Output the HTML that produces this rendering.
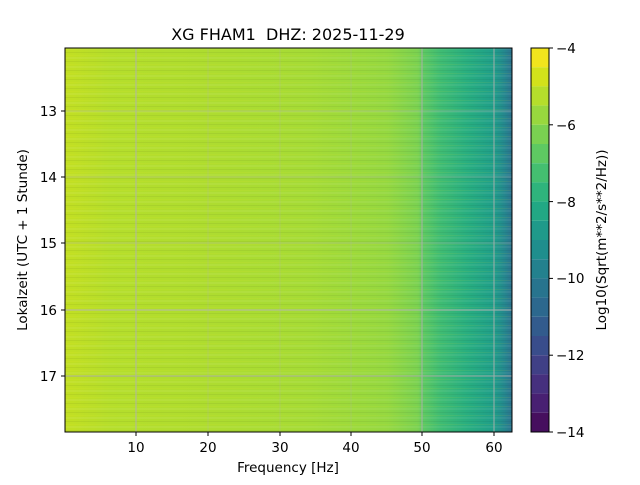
<!DOCTYPE html>
<html><head><style>body{margin:0;background:#fff}svg text{font-family:"DejaVu Sans","Liberation Sans",sans-serif;fill:#000}</style></head>
<body>
<svg width="640" height="480" xmlns="http://www.w3.org/2000/svg">
<defs>
<linearGradient id="g" x1="65" x2="512" y1="0" y2="0" gradientUnits="userSpaceOnUse">
<stop offset="0" stop-color="#c2df23"/>
<stop offset="0.1" stop-color="#b5de2b"/>
<stop offset="0.35" stop-color="#addc30"/>
<stop offset="0.55" stop-color="#a5db36"/>
<stop offset="0.72" stop-color="#95d840"/>
<stop offset="0.79" stop-color="#7ad151"/>
<stop offset="0.8" stop-color="#5ec962"/>
<stop offset="0.84" stop-color="#3fbc73"/>
<stop offset="0.9" stop-color="#28ae80"/>
<stop offset="0.96" stop-color="#1f9e89"/>
<stop offset="0.985" stop-color="#25858e"/>
<stop offset="1" stop-color="#2c728e"/>
</linearGradient>
<pattern id="s" width="447" height="9" patternUnits="userSpaceOnUse" x="65" y="48">
<rect x="0" y="0" width="447" height="2" fill="#fff" opacity="0.06"/>
<rect x="0" y="4" width="447" height="1" fill="#000" opacity="0.05"/>
<rect x="0" y="7" width="447" height="1" fill="#fde725" opacity="0.08"/>
</pattern>
</defs>
<text x="288" y="40" font-size="16" text-anchor="middle" xml:space="preserve">XG FHAM1  DHZ: 2025-11-29</text>
<rect x="65" y="48" width="447" height="384" fill="url(#g)"/>
<rect x="65" y="48" width="447" height="384" fill="url(#s)"/>
<g stroke="#b0b0b0" stroke-width="1" opacity="0.9">
<line x1="136" y1="48" x2="136" y2="432"/><line x1="208" y1="48" x2="208" y2="432" opacity="0.3"/>
<line x1="280" y1="48" x2="280" y2="432" opacity="0.3"/><line x1="351" y1="48" x2="351" y2="432" opacity="0.3"/>
<line x1="422" y1="48" x2="422" y2="432"/><line x1="494" y1="48" x2="494" y2="432"/>
<line x1="65" y1="111" x2="512" y2="111" opacity="0.5"/><line x1="65" y1="177" x2="512" y2="177" opacity="0.5"/>
<line x1="65" y1="243" x2="512" y2="243" opacity="0.5"/><line x1="65" y1="310" x2="512" y2="310"/>
<line x1="65" y1="376" x2="512" y2="376"/>
</g>
<rect x="65" y="48" width="447" height="384" fill="none" stroke="#000"/>
<g stroke="#000">
<line x1="136" y1="432" x2="136" y2="436"/><line x1="208" y1="432" x2="208" y2="436"/><line x1="280" y1="432" x2="280" y2="436"/>
<line x1="351" y1="432" x2="351" y2="436"/><line x1="422" y1="432" x2="422" y2="436"/><line x1="494" y1="432" x2="494" y2="436"/>
<line x1="61" y1="111" x2="65" y2="111"/><line x1="61" y1="177" x2="65" y2="177"/><line x1="61" y1="243" x2="65" y2="243"/>
<line x1="61" y1="310" x2="65" y2="310"/><line x1="61" y1="376" x2="65" y2="376"/>
</g>
<g font-size="13.5" text-anchor="middle">
<text x="136" y="452">10</text><text x="208" y="452">20</text><text x="280" y="452">30</text>
<text x="351" y="452">40</text><text x="422" y="452">50</text><text x="494" y="452">60</text>
</g>
<g font-size="13.5" text-anchor="end">
<text x="57" y="116">13</text><text x="57" y="182">14</text><text x="57" y="248">15</text><text x="57" y="315">16</text><text x="57" y="381">17</text>
</g>
<text x="288" y="472" font-size="13.5" text-anchor="middle">Frequency [Hz]</text>
<text transform="translate(27,240) rotate(-90)" font-size="13.5" text-anchor="middle">Lokalzeit (UTC + 1 Stunde)</text>
<g>
<rect x="531" y="48" width="18" height="19.2" fill="#f1e51d"/>
<rect x="531" y="67.2" width="18" height="19.2" fill="#d2e21b"/>
<rect x="531" y="86.4" width="18" height="19.2" fill="#b5de2b"/>
<rect x="531" y="105.6" width="18" height="19.2" fill="#98d83e"/>
<rect x="531" y="124.8" width="18" height="19.2" fill="#7ad151"/>
<rect x="531" y="144" width="18" height="19.2" fill="#5ec962"/>
<rect x="531" y="163.2" width="18" height="19.2" fill="#44bf70"/>
<rect x="531" y="182.4" width="18" height="19.2" fill="#2fb47c"/>
<rect x="531" y="201.6" width="18" height="19.2" fill="#22a884"/>
<rect x="531" y="220.8" width="18" height="19.2" fill="#1f9a8a"/>
<rect x="531" y="240" width="18" height="19.2" fill="#1f8e8d"/>
<rect x="531" y="259.2" width="18" height="19.2" fill="#23818e"/>
<rect x="531" y="278.4" width="18" height="19.2" fill="#28748e"/>
<rect x="531" y="297.6" width="18" height="19.2" fill="#2c688e"/>
<rect x="531" y="316.8" width="18" height="19.2" fill="#325b8d"/>
<rect x="531" y="336" width="18" height="19.2" fill="#394d8b"/>
<rect x="531" y="355.2" width="18" height="19.2" fill="#404086"/>
<rect x="531" y="374.4" width="18" height="19.2" fill="#46307e"/>
<rect x="531" y="393.6" width="18" height="19.2" fill="#482072"/>
<rect x="531" y="412.8" width="18" height="19.2" fill="#460f5e"/>
</g>
<rect x="531" y="48" width="18" height="384" fill="none" stroke="#000"/>
<g stroke="#000">
<line x1="549" y1="48" x2="553" y2="48"/><line x1="549" y1="124.8" x2="553" y2="124.8"/><line x1="549" y1="201.6" x2="553" y2="201.6"/>
<line x1="549" y1="278.4" x2="553" y2="278.4"/><line x1="549" y1="355.2" x2="553" y2="355.2"/><line x1="549" y1="432" x2="553" y2="432"/>
</g>
<g font-size="13.5">
<text x="556" y="53">−4</text><text x="556" y="130">−6</text><text x="556" y="207">−8</text>
<text x="556" y="283">−10</text><text x="556" y="360">−12</text><text x="556" y="437">−14</text>
</g>
<text transform="translate(606,240) rotate(-90)" font-size="13.5" text-anchor="middle">Log10(Sqrt(m**2/s**2/Hz))</text>
</svg>
</body></html>
